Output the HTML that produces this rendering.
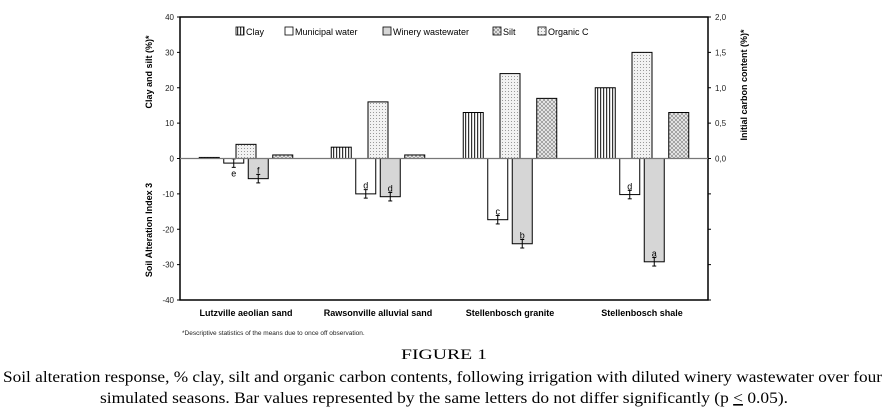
<!DOCTYPE html>
<html><head><meta charset="utf-8"><style>
html,body{margin:0;padding:0;background:#fff;}
svg{display:block;}
</style></head><body>
<svg id="chart" width="889" height="419" xmlns="http://www.w3.org/2000/svg" font-family="Liberation Sans, Arial, sans-serif">
<defs>
<pattern id="pClay" width="3" height="4" patternUnits="userSpaceOnUse"><rect width="3" height="4" fill="#fff"/><rect width="1.2" height="4" fill="#333"/></pattern>
<pattern id="pSilt" width="4" height="4" patternUnits="userSpaceOnUse"><rect width="4" height="4" fill="#efefef"/><path d="M0,0L4,4M4,0L0,4" stroke="#8a8a8a" stroke-width="0.7"/></pattern>
<pattern id="pOrg" width="3" height="3" patternUnits="userSpaceOnUse"><rect width="3" height="3" fill="#f2f2f2"/><rect x="1" y="1" width="1" height="1" fill="#999"/></pattern>
</defs>
<g id="plot"></g>
<text x="182" y="335" font-size="6.5" fill="#222">*Descriptive statistics of the means due to once off observation.</text>
<text x="444" y="359" font-family="Liberation Serif, serif" font-size="15" text-anchor="middle" textLength="86" lengthAdjust="spacingAndGlyphs">FIGURE 1</text>
<text x="3" y="382" font-family="Liberation Serif, serif" font-size="16" textLength="879" lengthAdjust="spacingAndGlyphs">Soil alteration response, % clay, silt and organic carbon contents, following irrigation with diluted winery wastewater over four</text>
<text x="100" y="403" font-family="Liberation Serif, serif" font-size="16" textLength="688" lengthAdjust="spacingAndGlyphs">simulated seasons. Bar values represented by the same letters do not differ significantly (p <tspan text-decoration="underline">&lt;</tspan> 0.05).</text>
</svg>
<script>
const categories = ["Lutzville aeolian sand","Rawsonville alluvial sand","Stellenbosch granite","Stellenbosch shale"];
const clay = [0.3, 3.2, 13, 20];
const municipal = [-1.3, -10, -17.3, -10.2];
const winery = [-5.7, -10.8, -24.1, -29.2];
const silt = [1, 1, 17, 13];
const organicC = [0.2, 0.8, 1.2, 1.5];
const municipalErr = [1.2, 1.2, 1.2, 1.2];
const wineryErr = [1.2, 1.2, 1.2, 1.2];
const municipalLetters = ["e","d","c","d"];
const wineryLetters = ["f","d","b","a"];
const leftTicks = [40,30,20,10,0,-10,-20,-30,-40];
const rightTicks = ["2,0","1,5","1,0","0,5","0,0"];

const NS = "http://www.w3.org/2000/svg";
const g = document.getElementById('plot');
const X0 = 180, X1 = 708, YT = 17, YB = 300;
const y = v => YT + (40 - v) * (YB - YT) / 80;
const gw = (X1 - X0) / categories.length;
const cx = i => X0 + gw * (i + 0.5);
function el(tag, attrs, text) {
  const e = document.createElementNS(NS, tag);
  for (const k in attrs) e.setAttribute(k, attrs[k]);
  if (text !== undefined) e.textContent = text;
  g.appendChild(e);
  return e;
}
let a = el('rect', {x: X0, y: YT, width: X1 - X0, height: YB - YT, fill: 'none', stroke: '#000', 'stroke-width': 1.5});


leftTicks.forEach(t => {
  const tk = el('line', {x1: X0 - 3, x2: X0, y1: y(t), y2: y(t), stroke: '#000'});
  
  
  const tl = el('text', {x: X0 - 6, y: y(t) + 3, 'font-size': 8, 'text-anchor': 'end', fill: '#222'}, String(t));
  
  
  const rk = el('line', {x1: X1, x2: X1 + 3, y1: y(t), y2: y(t), stroke: '#000'});
  
  
});
rightTicks.forEach((t, i) => {
  const tl = el('text', {x: X1 + 7, y: y(40 - i * 10) + 3, 'font-size': 8, fill: '#222'}, t);
  
  
});
let t1 = el('text', {transform: 'translate(152,72) rotate(-90)', 'font-size': 9, 'font-weight': 'bold', 'text-anchor': 'middle'}, 'Clay and silt (%)*');


let t2 = el('text', {transform: 'translate(152,230) rotate(-90)', 'font-size': 9, 'font-weight': 'bold', 'text-anchor': 'middle'}, 'Soil Alteration Index 3');


let t3 = el('text', {transform: 'translate(747,85) rotate(-90)', 'font-size': 9, 'font-weight': 'bold', 'text-anchor': 'middle'}, 'Initial carbon content (%)*');



const BW = 20, SP = 24.5;
function bar(xc, v, fill, name) {
  const b = el('rect', {x: xc - BW / 2, y: Math.min(y(0), y(v)), width: BW, height: Math.abs(y(v) - y(0)), fill: fill, stroke: '#000', 'stroke-width': 1});
  
  
}
function errbar(xc, v, e, letter, name) {
  const l = el('line', {x1: xc, x2: xc, y1: y(v - e), y2: y(v + e), stroke: '#000'});
  
  
  [v - e, v + e].forEach(vv => {
    const c = el('line', {x1: xc - 2, x2: xc + 2, y1: y(vv), y2: y(vv), stroke: '#000'});
    
    
  });
  const ly = v > -3 ? y(v - e) + 9 : y(v + e) - 1;
  const tx = el('text', {x: xc, y: ly, 'font-size': 9, 'text-anchor': 'middle'}, letter);
  
  
}
categories.forEach((c, i) => {
  const m = cx(i);
  bar(m - 1.5 * SP, clay[i], 'url(#pClay)', 'bar-clay');
  bar(m - 0.5 * SP, municipal[i], '#fff', 'bar-municipal');
  bar(m + 0.5 * SP, winery[i], '#d6d6d6', 'bar-winery');
  bar(m + 1.5 * SP, silt[i], 'url(#pSilt)', 'bar-silt');
  bar(m, organicC[i] * 20, 'url(#pOrg)', 'bar-organic-c');
  errbar(m - 0.5 * SP, municipal[i], municipalErr[i], municipalLetters[i], 'municipal');
  errbar(m + 0.5 * SP, winery[i], wineryErr[i], wineryLetters[i], 'winery');
  const lb = el('text', {x: m, y: 316, 'font-size': 9, 'font-weight': 'bold', 'text-anchor': 'middle'}, c);
  
  
});
let z = el('line', {x1: X0, x2: X1, y1: y(0), y2: y(0), stroke: '#777', 'stroke-width': 1.2});



const legend = [["Clay",'url(#pClay)',236],["Municipal water",'#fff',285],["Winery wastewater",'#d6d6d6',383],["Silt",'url(#pSilt)',493],["Organic C",'url(#pOrg)',538]];
legend.forEach(([n, f, lx]) => {
  const r = el('rect', {x: lx, y: 27, width: 8, height: 8, fill: f, stroke: '#000', 'stroke-width': 0.8});
  
  
  const t = el('text', {x: lx + 10, y: 35, 'font-size': 9}, n);
  
  
});
</script>
</body></html>
